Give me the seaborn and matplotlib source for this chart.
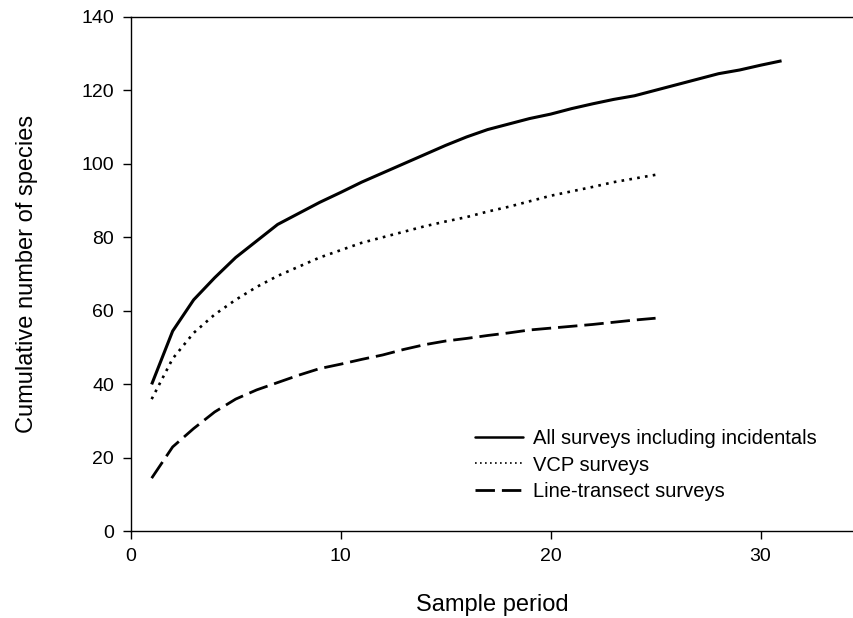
import pandas as pd
import matplotlib.pyplot as plt
import seaborn as sns

# Cumulative species counts per sample period
period_all = list(range(1, 32))
all_surveys = [40, 54.5, 63, 69, 74.5, 79, 83.5, 86.5, 89.5, 92.2,
               95, 97.5, 100, 102.5, 105, 107.3, 109.3, 110.8, 112.3, 113.5,
               115, 116.3, 117.5, 118.5, 120, 121.5, 123, 124.5, 125.5, 126.8,
               128]

period_short = list(range(1, 26))
vcp_surveys = [36, 47, 54, 59, 63, 66.5, 69.5, 72, 74.5, 76.5,
               78.5, 80, 81.5, 83, 84.3, 85.5, 87, 88.3, 89.8, 91.3,
               92.5, 93.7, 95, 96, 97]
line_transect = [14.5, 23, 28, 32.5, 36, 38.5, 40.5, 42.5, 44.3, 45.5,
                 46.8, 48, 49.5, 50.8, 51.8, 52.5, 53.3, 54, 54.8, 55.3,
                 55.8, 56.3, 56.9, 57.5, 58]

labels = ["All surveys including incidentals", "VCP surveys", "Line-transect surveys"]

df = pd.concat([
    pd.DataFrame({"period": period_all, "species": all_surveys, "survey": labels[0]}),
    pd.DataFrame({"period": period_short, "species": vcp_surveys, "survey": labels[1]}),
    pd.DataFrame({"period": period_short, "species": line_transect, "survey": labels[2]}),
])

sns.set_style("ticks")
plt.rcParams["font.family"] = ["Liberation Sans", "DejaVu Sans"]
plt.rcParams["text.color"] = "black"
plt.rcParams["axes.labelcolor"] = "black"

fig = plt.figure(figsize=(8.54, 6.18), dpi=100)
ax = fig.add_axes([0.153, 0.14, 0.847, 0.833])

sns.lineplot(data=df, x="period", y="species", hue="survey", style="survey",
             palette=["black"] * 3, dashes=[(None, None), (1, 2), (7, 2.5)],
             linewidth=2, ax=ax)
for line, dash in zip(ax.lines, [None, (0, (1, 2)), (0, (7, 2.5))]):
    if dash is not None:
        line.set_linestyle(dash)
    line.set_solid_capstyle("butt")
ax.lines[0].set_linewidth(2.2)
ax.lines[1].set_linewidth(1.9)

ax.set_xlim(0, 34.45)
ax.set_ylim(0, 140)
ax.set_xticks([0, 10, 20, 30])
ax.set_yticks(range(0, 141, 20))
ax.tick_params(direction="out", length=6, width=1, labelsize=14, colors="black", pad=6)
for s in ["left", "bottom", "top"]:
    ax.spines[s].set_visible(True)
    ax.spines[s].set_linewidth(1)
    ax.spines[s].set_color("black")
ax.spines["right"].set_visible(False)

ax.set_xlabel("Sample period", fontsize=17, labelpad=21)
ax.set_ylabel("Cumulative number of species", fontsize=17, labelpad=31)

leg = ax.legend(loc="lower right", bbox_to_anchor=(0.949, 0.06), frameon=False,
                fontsize=14.5, handlelength=2.4, handletextpad=0.5, labelspacing=0.35,
                borderpad=0, borderaxespad=0)
for h, lw in zip(leg.legend_handles, [1.8, 1.2, 2.0]):
    h.set_linewidth(lw)

fig.savefig("out.png", dpi=100)
